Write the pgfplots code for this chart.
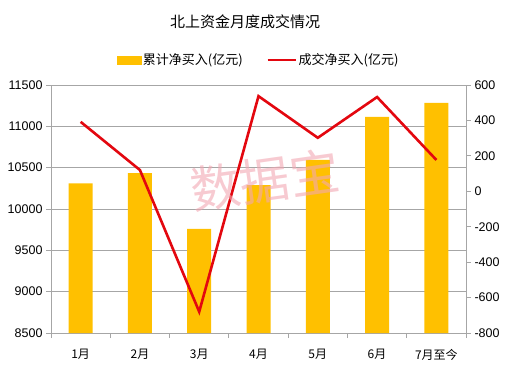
\documentclass[border=0pt]{standalone}
\usepackage{fontspec}
\setmainfont{Liberation Sans}
\newfontfamily\cjk{Noto Sans CJK SC}
\usepackage{pgfplots}
\pgfplotsset{compat=1.18}
\definecolor{barc}{HTML}{FFC000}
\definecolor{linec}{HTML}{E3070F}
\definecolor{gridc}{HTML}{A6A6A6}
\definecolor{wm}{HTML}{F2A7B2}
\begin{document}
\begin{tikzpicture}
\path[use as bounding box] (0,0) rectangle (526pt,366pt);
\begin{axis}[
  at={(51pt,33pt)}, anchor=south west, scale only axis,
  width=415pt, height=248pt,
  xmin=-0.5, xmax=6.5, ymin=8500, ymax=11500,
  scaled y ticks=false,
  axis x line*=bottom, axis y line*=left,
  axis line style={gridc, line width=0.8pt, -},
  ytick={8500,9000,...,11500},
  xtick={0,...,6},
  xticklabels={1月,2月,3月,4月,5月,6月,7月至今},
  xticklabel style={font=\cjk\fontsize{12}{14}\selectfont, yshift=-8pt},
  yticklabel style={font=\fontsize{12.5}{14}\selectfont},
  /pgf/number format/assume math mode=true,
  /pgf/number format/1000 sep={},
  major x tick style={draw=none},
  minor xtick={-0.5,0.5,...,6.5},
  minor tick length=5pt,
  major tick length=5pt,
  tick align=outside,
  tick style={gridc, line width=0.8pt},
  ymajorgrids, grid style={gridc, line width=0.8pt},
  ybar, bar width=24pt,
]
\addplot[fill=barc, draw=none, bar shift=0pt] coordinates {
(0,10310) (1,10435) (2,9760) (3,10290) (4,10595) (5,11115) (6,11285)};
\end{axis}
\begin{axis}[
  at={(51pt,33pt)}, anchor=south west, scale only axis,
  width=415pt, height=248pt,
  xmin=-0.5, xmax=6.5, ymin=-800, ymax=600,
  axis x line=none, axis y line*=right,
  axis line style={gridc, line width=0.8pt, -},
  ytick={-800,-600,...,600},
  yticklabel style={font=\fontsize{12.5}{14}\selectfont},
  /pgf/number format/assume math mode=true,
  /pgf/number format/1000 sep={},
  major tick length=5pt, tick align=outside,
  tick style={gridc, line width=0.8pt},
  legend columns=2,
  legend style={at={(rel axis cs:0.5,1.10)}, anchor=center, draw=none, fill=none,
    font=\cjk\fontsize{13}{15}\selectfont, /tikz/every even column/.append style={column sep=22pt}},
]
\addlegendimage{legend image code/.code={\fill[barc] (0pt,-4pt) rectangle (24pt,4pt);}}
\addlegendentry{累计净买入(亿元)}
\addplot[linec, line width=2.6pt, mark=none, legend image code/.code={\draw[linec, line width=2pt] (0pt,0pt) -- (28pt,0pt);}] coordinates {
(0,392) (1,120) (2,-680) (3,537) (4,302) (5,532) (6,177)};
\addlegendentry{成交净买入(亿元)}
\end{axis}
\node[font=\cjk\fontsize{15}{17}\selectfont] at (245pt,344pt) {北上资金月度成交情况};
\node[font=\cjk\fontsize{50}{50}\selectfont, text=wm, opacity=0.6, rotate=8] at (265pt,186pt) {数据宝};
\end{tikzpicture}
\end{document}
